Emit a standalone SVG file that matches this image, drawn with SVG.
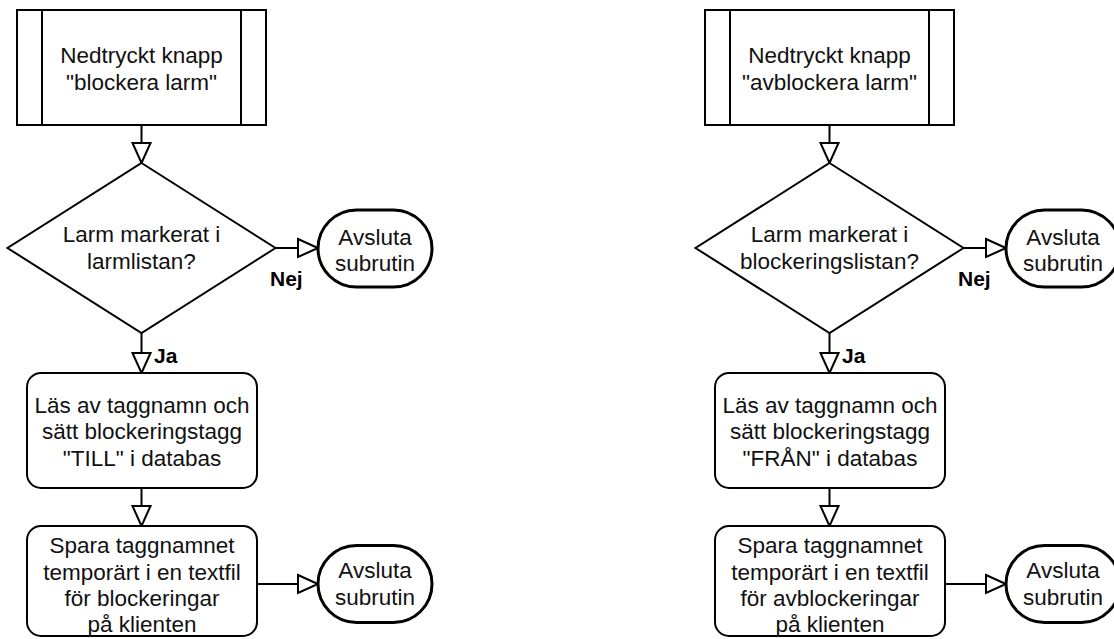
<svg xmlns="http://www.w3.org/2000/svg" width="1114" height="639" viewBox="0 0 1114 639">
  <style>
    .shape { fill: #ffffff; stroke: #000000; stroke-width: 2; }
    .term { fill: #ffffff; stroke: #000000; stroke-width: 3; }
    .edge { fill: none; stroke: #000000; stroke-width: 2; }
    .lbl { font-family: "Liberation Sans", Arial, sans-serif; font-size: 22.5px; fill: #111111; text-anchor: middle; }
    .tag { font-family: "Liberation Sans", Arial, sans-serif; font-size: 21px; font-weight: bold; fill: #000000; }
  </style>
  <defs>
    <marker id="open-tri" markerUnits="userSpaceOnUse" markerWidth="24" markerHeight="22" refX="21" refY="10" orient="auto" overflow="visible">
      <path d="M1,1 L21,10 L1,19 Z" fill="#ffffff" stroke="#000000" stroke-width="2" stroke-linejoin="miter"/>
    </marker>
  </defs>

  <!-- connectors -->
  <g id="connectors">
    <path class="edge" d="M141.5,125 V163" marker-end="url(#open-tri)"/>
    <path class="edge" d="M275.5,248 H318" marker-end="url(#open-tri)"/>
    <path class="edge" d="M141.5,333 V373" marker-end="url(#open-tri)"/>
    <path class="edge" d="M141.5,488 V526" marker-end="url(#open-tri)"/>
    <path class="edge" d="M257,584 H318" marker-end="url(#open-tri)"/>
    <text class="tag" x="270" y="285.5">Nej</text>
    <text class="tag" x="154" y="363">Ja</text>

    <path class="edge" d="M829.5,125 V163" marker-end="url(#open-tri)"/>
    <path class="edge" d="M963.5,248 H1006" marker-end="url(#open-tri)"/>
    <path class="edge" d="M829.5,333 V373" marker-end="url(#open-tri)"/>
    <path class="edge" d="M829.5,488 V526" marker-end="url(#open-tri)"/>
    <path class="edge" d="M945,584 H1006" marker-end="url(#open-tri)"/>
    <text class="tag" x="958" y="285.5">Nej</text>
    <text class="tag" x="842" y="363">Ja</text>
  </g>

  <!-- left flow: block alarm -->
  <g id="start-block">
    <rect class="shape" x="17" y="10" width="249" height="115"/>
    <path class="shape" d="M42,10 V125 M241,10 V125"/>
    <text class="lbl" x="141.5" y="63">Nedtryckt knapp</text>
    <text class="lbl" x="141.5" y="90">"blockera larm"</text>
  </g>
  <g id="decision-block">
    <polygon class="shape" points="141.5,163 275.5,248 141.5,333 7.5,248"/>
    <text class="lbl" x="141.5" y="242">Larm markerat i</text>
    <text class="lbl" x="141.5" y="268.5">larmlistan?</text>
  </g>
  <g id="end-block-1">
    <rect class="term" x="318" y="210" width="114" height="77" rx="38.5" ry="38.5"/>
    <text class="lbl" x="375" y="244.5">Avsluta</text>
    <text class="lbl" x="375" y="271">subrutin</text>
  </g>
  <g id="set-tag-block">
    <rect class="shape" x="27" y="373" width="230" height="115" rx="14" ry="14"/>
    <text class="lbl" x="142" y="412.5">Läs av taggnamn och</text>
    <text class="lbl" x="142" y="439">sätt blockeringstagg</text>
    <text class="lbl" x="142" y="465.5">"TILL" i databas</text>
  </g>
  <g id="save-block">
    <rect class="shape" x="27" y="526" width="230" height="110" rx="14" ry="14"/>
    <text class="lbl" x="142" y="553">Spara taggnamnet</text>
    <text class="lbl" x="142" y="579.5">temporärt i en textfil</text>
    <text class="lbl" x="142" y="606">för blockeringar</text>
    <text class="lbl" x="142" y="632">på klienten</text>
  </g>
  <g id="end-block-2">
    <rect class="term" x="318" y="545.5" width="114" height="77" rx="38.5" ry="38.5"/>
    <text class="lbl" x="375" y="577.5">Avsluta</text>
    <text class="lbl" x="375" y="604.5">subrutin</text>
  </g>

  <!-- right flow: unblock alarm -->
  <g id="start-unblock">
    <rect class="shape" x="705" y="10" width="249" height="115"/>
    <path class="shape" d="M730,10 V125 M929,10 V125"/>
    <text class="lbl" x="829.5" y="63">Nedtryckt knapp</text>
    <text class="lbl" x="829.5" y="90">"avblockera larm"</text>
  </g>
  <g id="decision-unblock">
    <polygon class="shape" points="829.5,163 963.5,248 829.5,333 695.5,248"/>
    <text class="lbl" x="829.5" y="242">Larm markerat i</text>
    <text class="lbl" x="829.5" y="268.5">blockeringslistan?</text>
  </g>
  <g id="end-unblock-1">
    <rect class="term" x="1006" y="210" width="114" height="77" rx="38.5" ry="38.5"/>
    <text class="lbl" x="1063" y="244.5">Avsluta</text>
    <text class="lbl" x="1063" y="271">subrutin</text>
  </g>
  <g id="set-tag-unblock">
    <rect class="shape" x="715" y="373" width="230" height="115" rx="14" ry="14"/>
    <text class="lbl" x="830" y="412.5">Läs av taggnamn och</text>
    <text class="lbl" x="830" y="439">sätt blockeringstagg</text>
    <text class="lbl" x="830" y="465.5">"FRÅN" i databas</text>
  </g>
  <g id="save-unblock">
    <rect class="shape" x="715" y="526" width="230" height="110" rx="14" ry="14"/>
    <text class="lbl" x="830" y="553">Spara taggnamnet</text>
    <text class="lbl" x="830" y="579.5">temporärt i en textfil</text>
    <text class="lbl" x="830" y="606">för avblockeringar</text>
    <text class="lbl" x="830" y="632">på klienten</text>
  </g>
  <g id="end-unblock-2">
    <rect class="term" x="1006" y="545.5" width="114" height="77" rx="38.5" ry="38.5"/>
    <text class="lbl" x="1063" y="577.5">Avsluta</text>
    <text class="lbl" x="1063" y="604.5">subrutin</text>
  </g>
</svg>
